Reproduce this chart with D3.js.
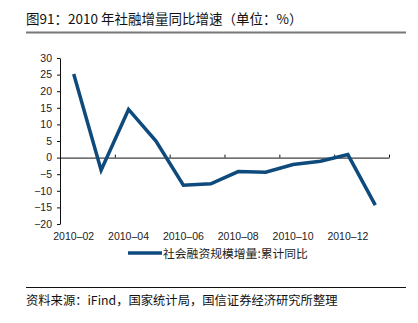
<!DOCTYPE html>
<html>
<head>
<meta charset="utf-8">
<script src="https://cdn.jsdelivr.net/npm/d3@7"></script>
<style>
  html, body { margin: 0; padding: 0; background: #fff; }
  svg { display: block; }
</style>
</head>
<body>
<svg id="chart" width="418" height="323"></svg>
<script>
// Monthly categories and cumulative YoY growth of social financing increments (%)
const months = ["2010-02","2010-03","2010-04","2010-05","2010-06","2010-07","2010-08","2010-09","2010-10","2010-11","2010-12","2011-01"];
const yoyGrowth = [25.2, -3.8, 14.5, 5.0, -8.3, -7.9, -4.2, -4.4, -2.1, -1.1, 0.9, -14.3];
const yTicks = [30, 25, 20, 15, 10, 5, 0, -5, -10, -15, -20];
const xLabelMonths = ["2010-02","2010-04","2010-06","2010-08","2010-10","2010-12"];
const seriesName = "社会融资规模增量:累计同比";
const titleText = "图91：2010 年社融增量同比增速（单位：%）";
const sourceText = "资料来源：iFind，国家统计局，国信证券经济研究所整理";

const svg = d3.select("#chart");
const cjk = "'Noto Sans CJK SC', 'Noto Sans', sans-serif";
const latin = "'Liberation Sans', Arial, sans-serif";
const inkColor = "#222";
const lineColor = "#0e4a7c";

const plot = { left: 60, right: 389, top: 58, bottom: 224 };

const x = d3.scaleBand().domain(months).range([plot.left, plot.right]).paddingInner(0).paddingOuter(0);
const xIdx = d3.scaleLinear().domain([0, months.length]).range([plot.left, plot.right]);
const y = d3.scaleLinear().domain([-20, 30]).range([plot.bottom, plot.top]);

// Title and rule
svg.append("text")
  .attr("x", 26).attr("y", 24)
  .attr("font-family", cjk).attr("font-size", 13.5)
  .attr("fill", "#111")
  .text(titleText);
svg.append("line")
  .attr("x1", 26).attr("x2", 406).attr("y1", 32.5).attr("y2", 32.5)
  .attr("stroke", "#777").attr("stroke-width", 2);

// Y axis
const yAxis = svg.append("g")
  .attr("transform", `translate(${plot.left},0)`)
  .call(d3.axisLeft(y).tickValues(yTicks).tickSize(3).tickSizeOuter(0).tickFormat(d => d < 0 ? "\u2212" + Math.abs(d) : d));
yAxis.select(".domain").attr("stroke", "#111");
yAxis.selectAll(".tick line").attr("stroke", "#111");
yAxis.selectAll("text")
  .attr("font-family", latin).attr("font-size", 10.5).attr("fill", inkColor)
  .attr("x", -8);

// X axis along the zero line, ticks between every two months
const xAxis = svg.append("g")
  .attr("transform", `translate(0,${y(0)})`)
  .call(d3.axisTop(xIdx).tickValues(d3.range(2, months.length + 1, 2)).tickSize(3).tickSizeOuter(0).tickFormat(""));
xAxis.select(".domain").attr("stroke", "#111");
xAxis.selectAll(".tick line").attr("stroke", "#111");

// Month labels below the plot
const xLab = svg.append("g")
  .attr("transform", `translate(0,${plot.bottom + 6})`)
  .call(d3.axisBottom(x).tickValues(xLabelMonths).tickSize(0));
xLab.select(".domain").remove();
xLab.selectAll("text")
  .attr("font-family", latin).attr("font-size", 10.5).attr("fill", inkColor)
  .attr("dy", "0.71em")
  .text(d => d.replace("-", "\u2013"));

// Series line
const line = d3.line()
  .x((d, i) => x(months[i]) + x.bandwidth() / 2)
  .y(d => y(d));
svg.append("path")
  .datum(yoyGrowth)
  .attr("d", line)
  .attr("fill", "none")
  .attr("stroke", lineColor)
  .attr("stroke-width", 3.5)
  .attr("stroke-linejoin", "miter");

// Legend
svg.append("line")
  .attr("x1", 128).attr("x2", 162).attr("y1", 253).attr("y2", 253)
  .attr("stroke", lineColor).attr("stroke-width", 3.5);
svg.append("text")
  .attr("x", 163).attr("y", 257.5)
  .attr("font-family", cjk).attr("font-size", 11.8).attr("fill", inkColor)
  .text(seriesName);

// Footer rule and source
svg.append("line")
  .attr("x1", 26).attr("x2", 406).attr("y1", 287.5).attr("y2", 287.5)
  .attr("stroke", "#111").attr("stroke-width", 1);
svg.append("text")
  .attr("x", 26).attr("y", 305)
  .attr("font-family", cjk).attr("font-size", 12.3).attr("fill", "#111")
  .text(sourceText);
</script>
</body>
</html>
